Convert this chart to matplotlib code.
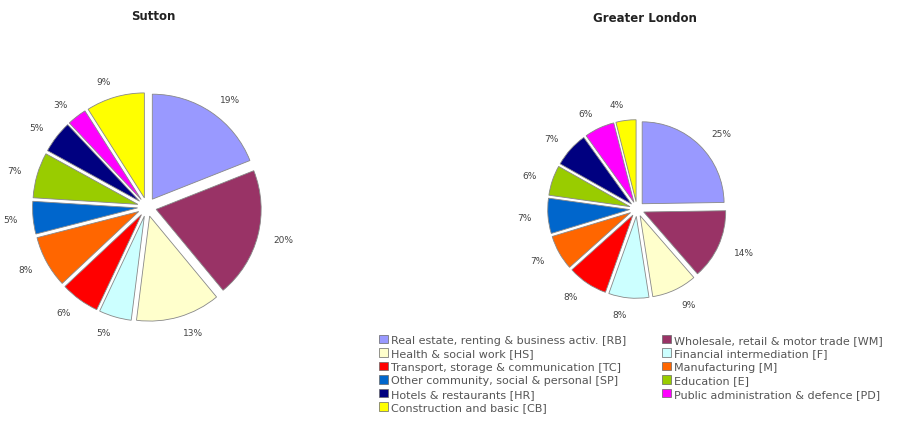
import matplotlib
matplotlib.use("Agg")
import matplotlib.pyplot as plt
from matplotlib.patches import Patch

categories = [
    "Real estate, renting & business activ. [RB]",
    "Wholesale, retail & motor trade [WM]",
    "Health & social work [HS]",
    "Financial intermediation [F]",
    "Transport, storage & communication [TC]",
    "Manufacturing [M]",
    "Other community, social & personal [SP]",
    "Education [E]",
    "Hotels & restaurants [HR]",
    "Public administration & defence [PD]",
    "Construction and basic [CB]",
]
colors = ["#9999FF", "#993366", "#FFFFCC", "#CCFFFF", "#FF0000", "#FF6600",
          "#0066CC", "#99CC00", "#000080", "#FF00FF", "#FFFF00"]

sutton = [19, 20, 13, 5, 6, 8, 5, 7, 5, 3, 9]
london = [25, 14, 9, 8, 8, 7, 7, 6, 7, 6, 4]

W, H = 902, 431
fig = plt.figure(figsize=(W / 100, H / 100), dpi=100)


def add_pie(cx, cy, size, values, title, title_xy, ldist):
    ax = fig.add_axes([(cx - size / 2) / W, (H - cy - size / 2) / H, size / W, size / H])
    labels = [f"{v}%" for v in values]
    ax.pie(values, colors=colors, startangle=90, counterclock=False,
           explode=[0.09] * len(values), labels=labels, labeldistance=ldist,
           wedgeprops=dict(edgecolor="#888888", linewidth=0.6),
           textprops=dict(fontsize=6.5, color="#444444"))
    ax.set_xlim(-1.3, 1.3)
    ax.set_ylim(-1.3, 1.3)
    ax.set_aspect("equal")
    ax.axis("off")
    fig.text(title_xy[0] / W, 1 - title_xy[1] / H, title, ha="center", va="center",
             fontsize=8.5, fontweight="bold", color="#222222")


add_pie(147, 208, 273, sutton, "Sutton", (153, 16), 1.15)
add_pie(637, 210, 213, london, "Greater London", (645, 18), 1.2)

# legend: row-major order across two columns
left_idx = [0, 2, 4, 6, 8, 10]
right_idx = [1, 3, 5, 7, 9]
order = left_idx + right_idx
handles = [Patch(facecolor=colors[i], edgecolor="#666666", linewidth=0.5) for i in order]
labs = [categories[i] for i in order]
fig.legend(handles, labs, ncol=2, loc="upper left",
           bbox_to_anchor=(370 / W, 1 - 327 / H), frameon=False,
           fontsize=8.0, handlelength=0.8, handleheight=0.8, handletextpad=0.3,
           columnspacing=3.2, labelspacing=0.3, labelcolor="#555555",
           borderpad=0.3)

fig.savefig("out.png", dpi=100, facecolor="white")
